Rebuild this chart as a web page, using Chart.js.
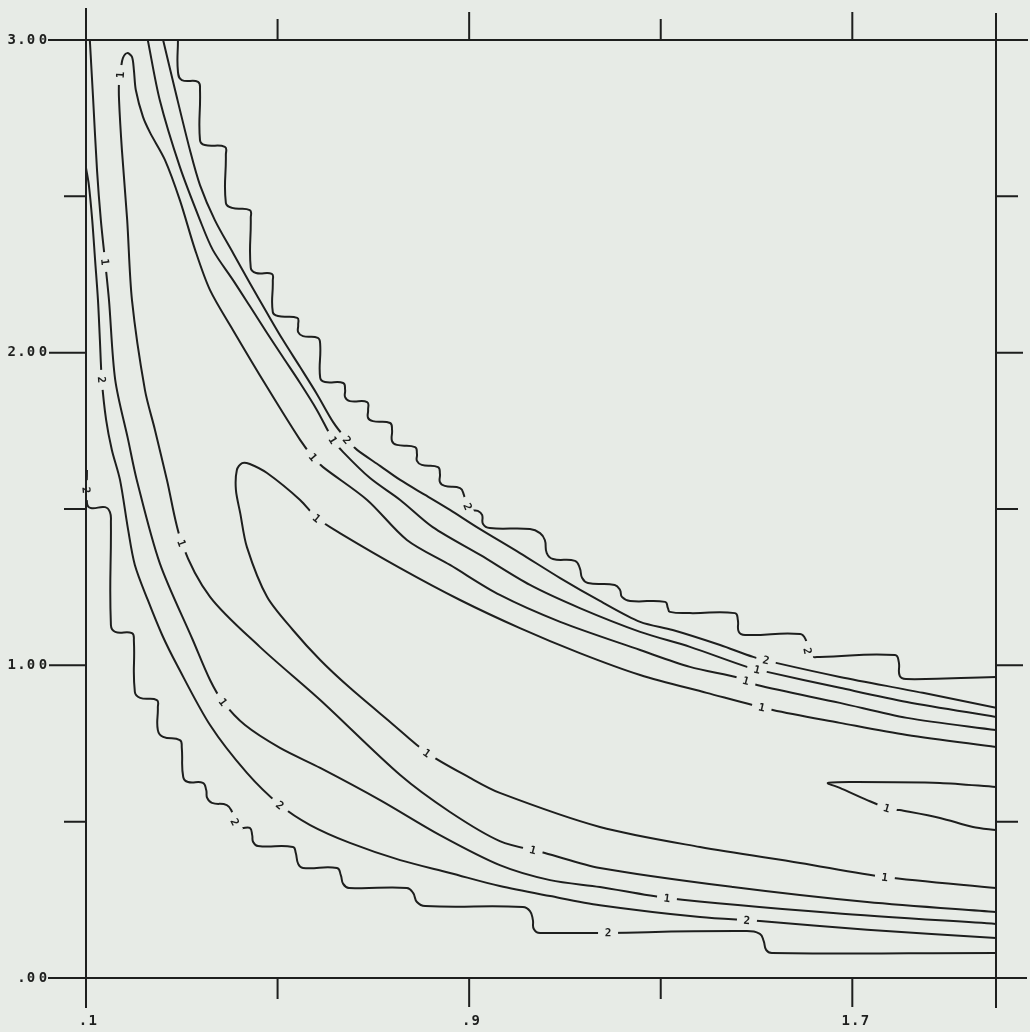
<!DOCTYPE html>
<html>
<head>
<meta charset="utf-8">
<script src="https://cdn.jsdelivr.net/npm/chart.js@4.4.1/dist/chart.umd.min.js"></script>
<style>
  html, body { margin: 0; padding: 0; background: #e7ebe6; }
  #wrap { width: 1030px; height: 1032px; }
</style>
</head>
<body>
<div id="wrap"><canvas id="contourChart" width="1030" height="1032"></canvas></div>
<script>
// contour lines, [x, y] pairs in data units
const upperWavy2 = [[0.292,3.000],[0.292,2.898],[0.300,2.872],[0.334,2.866],[0.338,2.840],[0.338,2.680],[0.348,2.664],[0.390,2.658],[0.392,2.632],[0.392,2.479],[0.405,2.463],[0.442,2.456],[0.444,2.431],[0.444,2.271],[0.455,2.255],[0.488,2.252],[0.490,2.229],[0.490,2.130],[0.501,2.117],[0.541,2.111],[0.543,2.088],[0.543,2.066],[0.553,2.053],[0.584,2.047],[0.589,2.025],[0.589,1.919],[0.599,1.906],[0.637,1.903],[0.641,1.881],[0.641,1.858],[0.651,1.845],[0.687,1.842],[0.689,1.817],[0.689,1.791],[0.699,1.781],[0.735,1.775],[0.739,1.753],[0.739,1.717],[0.749,1.705],[0.787,1.698],[0.791,1.676],[0.791,1.654],[0.801,1.641],[0.835,1.634],[0.839,1.612],[0.839,1.586],[0.849,1.574],[0.881,1.567],[0.889,1.545],[0.893,1.519],[0.902,1.497],[0.918,1.494],[0.927,1.481],[0.929,1.452],[0.943,1.439],[1.027,1.436],[1.048,1.423],[1.058,1.401],[1.062,1.359],[1.075,1.340],[1.121,1.334],[1.131,1.311],[1.136,1.279],[1.148,1.263],[1.204,1.257],[1.215,1.241],[1.219,1.219],[1.236,1.206],[1.309,1.203],[1.315,1.183],[1.319,1.171],[1.361,1.167],[1.455,1.167],[1.461,1.145],[1.463,1.107],[1.476,1.097],[1.591,1.100],[1.603,1.081],[1.605,1.055],[1.609,1.036],[1.616,1.027],[1.632,1.027],[1.789,1.033],[1.797,1.011],[1.799,0.966],[1.812,0.956],[2.000,0.963]];
const upper2 = [[0.261,3.000],[0.286,2.840],[0.317,2.648],[0.338,2.536],[0.369,2.424],[0.407,2.319],[0.442,2.223],[0.478,2.127],[0.511,2.041],[0.547,1.954],[0.582,1.868],[0.616,1.778],[0.645,1.721],[0.666,1.689],[0.714,1.638],[0.756,1.593],[0.808,1.545],[0.860,1.497],[0.916,1.442],[1.006,1.359],[1.090,1.279],[1.173,1.206],[1.257,1.139],[1.325,1.113],[1.424,1.065],[1.493,1.027],[1.543,1.007],[1.674,0.963],[1.847,0.912],[2.000,0.864]];
const upper1 = [[0.229,3.000],[0.254,2.808],[0.296,2.594],[0.338,2.424],[0.365,2.328],[0.407,2.232],[0.442,2.149],[0.478,2.063],[0.511,1.986],[0.547,1.903],[0.582,1.817],[0.616,1.721],[0.637,1.682],[0.693,1.599],[0.756,1.529],[0.824,1.442],[0.923,1.353],[1.027,1.257],[1.131,1.183],[1.257,1.107],[1.361,1.059],[1.480,0.995],[1.522,0.979],[1.674,0.928],[1.814,0.883],[2.000,0.835]];
const loop1 = [[2.000,0.211],[1.731,0.243],[1.451,0.291],[1.173,0.352],[1.058,0.400],[0.964,0.438],[0.860,0.531],[0.756,0.649],[0.589,0.889],[0.463,1.059],[0.359,1.219],[0.300,1.391],[0.269,1.593],[0.244,1.753],[0.223,1.881],[0.196,2.168],[0.186,2.424],[0.175,2.648],[0.169,2.808],[0.169,2.866],[0.173,2.910],[0.177,2.942],[0.186,2.958],[0.196,2.946],[0.200,2.904],[0.204,2.840],[0.219,2.754],[0.234,2.703],[0.265,2.616],[0.296,2.488],[0.328,2.328],[0.359,2.200],[0.407,2.072],[0.478,1.890],[0.547,1.721],[0.574,1.666],[0.595,1.634],[0.687,1.529],[0.770,1.401],[0.860,1.321],[0.964,1.225],[1.090,1.139],[1.257,1.049],[1.361,0.995],[1.465,0.959],[1.501,0.937],[1.674,0.880],[1.814,0.832],[2.000,0.793]];
const lower1 = [[0.108,3.000],[0.115,2.808],[0.123,2.584],[0.131,2.424],[0.140,2.290],[0.148,2.168],[0.161,1.913],[0.188,1.721],[0.206,1.593],[0.254,1.327],[0.323,1.081],[0.359,0.953],[0.386,0.883],[0.432,0.809],[0.505,0.736],[0.589,0.672],[0.714,0.569],[0.839,0.457],[0.964,0.361],[1.069,0.313],[1.173,0.291],[1.313,0.256],[1.660,0.208],[2.000,0.173]];
const lower2 = [[0.100,2.591],[0.106,2.536],[0.113,2.424],[0.119,2.296],[0.125,2.168],[0.129,2.041],[0.133,1.913],[0.142,1.785],[0.154,1.689],[0.171,1.593],[0.188,1.433],[0.202,1.321],[0.229,1.209],[0.259,1.097],[0.290,1.001],[0.359,0.809],[0.436,0.656],[0.505,0.553],[0.568,0.489],[0.651,0.432],[0.756,0.377],[0.860,0.336],[0.964,0.294],[1.069,0.262],[1.173,0.233],[1.382,0.195],[1.507,0.182],[1.731,0.154],[2.000,0.128]];
const lowerWavy2 = [[0.102,1.625],[0.102,1.519],[0.110,1.503],[0.140,1.506],[0.150,1.490],[0.152,1.458],[0.152,1.129],[0.161,1.107],[0.196,1.103],[0.200,1.078],[0.202,0.915],[0.213,0.896],[0.248,0.889],[0.250,0.864],[0.250,0.793],[0.261,0.771],[0.296,0.761],[0.300,0.736],[0.303,0.643],[0.313,0.627],[0.344,0.624],[0.351,0.601],[0.353,0.576],[0.363,0.560],[0.394,0.553],[0.405,0.531],[0.411,0.499],[0.422,0.480],[0.442,0.480],[0.447,0.457],[0.449,0.435],[0.459,0.422],[0.532,0.419],[0.538,0.400],[0.543,0.365],[0.553,0.352],[0.624,0.352],[0.632,0.329],[0.637,0.301],[0.649,0.288],[0.770,0.288],[0.783,0.272],[0.791,0.243],[0.808,0.230],[1.012,0.227],[1.027,0.214],[1.033,0.186],[1.035,0.157],[1.048,0.144],[1.480,0.150],[1.507,0.141],[1.515,0.118],[1.520,0.090],[1.532,0.080],[2.000,0.080]];
const innerLoop1 = [[2.000,0.739],[1.814,0.777],[1.674,0.816],[1.534,0.857],[1.396,0.912],[1.257,0.969],[1.131,1.039],[1.006,1.119],[0.881,1.209],[0.756,1.311],[0.630,1.423],[0.582,1.471],[0.547,1.529],[0.478,1.615],[0.442,1.644],[0.426,1.647],[0.415,1.625],[0.413,1.561],[0.422,1.487],[0.436,1.378],[0.478,1.219],[0.532,1.113],[0.589,1.017],[0.651,0.928],[0.735,0.819],[0.812,0.720],[0.902,0.640],[0.964,0.592],[1.173,0.483],[1.382,0.419],[1.591,0.368],[1.768,0.323],[2.000,0.288]];
const rightTongue1 = [[2.000,0.611],[1.883,0.624],[1.710,0.627],[1.649,0.624],[1.674,0.608],[1.731,0.569],[1.772,0.544],[1.799,0.537],[1.883,0.512],[1.952,0.483],[2.000,0.473]];

// contour level labels: text, position, and which line they sit on
const labelText  = ["2","2", "2","2", "1","1", "1","1","1","1","1", "1","1","1", "2","2","2", "2","2","2", "1","1","1","1", "1"];
const labelX     = [0.897,1.607, 0.645,1.520, 0.616,1.501, 0.171,0.300,1.033,0.574,1.478, 0.140,0.386,1.313, 0.133,0.505,1.480, 0.101,0.411,1.190, 0.582,1.511,0.812,1.768, 1.772];
const labelY     = [1.508,1.046, 1.721,1.017, 1.721,0.987, 2.888,1.391,0.410,1.666,0.951, 2.290,0.883,0.256, 1.913,0.553,0.185, 1.560,0.499,0.146, 1.471,0.866,0.720,0.323, 0.544];
const labelCurve = [0,0, 1,1, 2,2, 3,3,3,3,3, 4,4,4, 5,5,5, 6,6,6, 7,7,7,7, 8];

// axes
const xTicks = [0.1, 0.5, 0.9, 1.3, 1.7];
const xMajor = [true, false, true, false, true];
const xTickLabels = [".1", "", ".9", "", "1.7"];
const yTicks = [0.5, 1, 1.5, 2, 2.5];
const yMajor = [false, true, false, true, false];
const yTickValues = [3, 2, 1, 0];
const yTickLabels = ["3.00", "2.00", "1.00", ".00"];

const ink = "#1e1f1e";
const paper = "#e7ebe6";
const contours = [upperWavy2, upper2, upper1, loop1, lower1, lower2, lowerWavy2, innerLoop1, rightTongue1];
const wavy = [true, false, false, false, false, false, true, false, false];

function monoText(ctx, str, xRight, y, adv) {
  for (let i = 0; i < str.length; i++) {
    const ch = str[i];
    const w = ch === "." ? adv * 0.6 : adv;
    ctx.fillText(ch, xRight - w / 2, y);
  }
}

// draw right-aligned plotter-style text, narrow cell for the dot
function plotterText(ctx, str, xRight, y, adv) {
  let x = xRight;
  for (let i = str.length - 1; i >= 0; i--) {
    const w = str[i] === "." ? adv * 0.6 : adv;
    ctx.fillText(str[i], x - w / 2, y);
    x -= w;
  }
}

function textWidth(str, adv) {
  let w = 0;
  for (const ch of str) w += ch === "." ? adv * 0.6 : adv;
  return w;
}

function drawLabels(chart) {
  const ctx = chart.ctx;
  const xs = chart.scales.x, ys = chart.scales.y;
  ctx.save();
  ctx.font = "bold 11px 'DejaVu Sans Mono', monospace";
  ctx.textAlign = "center";
  ctx.textBaseline = "middle";
  labelText.forEach(function(txt, i) {
    const px = xs.getPixelForValue(labelX[i]);
    const py = ys.getPixelForValue(labelY[i]);
    const pts = chart.getDatasetMeta(labelCurve[i]).data;
    let best = 0, bestD = Infinity;
    pts.forEach(function(p, k) {
      const d = (p.x - px) * (p.x - px) + (p.y - py) * (p.y - py);
      if (d < bestD) { bestD = d; best = k; }
    });
    const a = pts[Math.max(best - 1, 0)];
    const b = pts[Math.min(best + 1, pts.length - 1)];
    let ang = Math.atan2(b.y - a.y, b.x - a.x);
    if (ang > Math.PI / 2) ang -= Math.PI;
    if (ang <= -Math.PI / 2) ang += Math.PI;
    ctx.save();
    ctx.translate(px, py);
    ctx.rotate(ang);
    ctx.fillStyle = paper;
    ctx.fillRect(-10, -4, 20, 8);
    ctx.fillStyle = ink;
    ctx.fillText(txt, 0, 1);
    ctx.restore();
  });
  ctx.restore();
}

function drawFrame(chart) {
  const ctx = chart.ctx;
  const xs = chart.scales.x, ys = chart.scales.y;
  const left = xs.getPixelForValue(0.1), right = xs.getPixelForValue(2.0);
  const top = ys.getPixelForValue(3), bottom = ys.getPixelForValue(0);
  ctx.save();
  ctx.strokeStyle = ink;
  ctx.lineWidth = 2;
  ctx.beginPath();
  ctx.moveTo(left - 38, top); ctx.lineTo(right + 32, top);
  ctx.moveTo(left - 38, bottom); ctx.lineTo(right + 31, bottom);
  ctx.moveTo(left, top - 32); ctx.lineTo(left, bottom + 30);
  ctx.moveTo(right, top - 27); ctx.lineTo(right, bottom + 30);
  xTicks.forEach(function(v, i) {
    const px = xs.getPixelForValue(v);
    ctx.moveTo(px, top); ctx.lineTo(px, top - (xMajor[i] ? 28 : 21));
    ctx.moveTo(px, bottom); ctx.lineTo(px, bottom + (xMajor[i] ? 29 : 21));
  });
  yTicks.forEach(function(v, i) {
    const py = ys.getPixelForValue(v);
    ctx.moveTo(left - (yMajor[i] ? 37 : 22), py); ctx.lineTo(left, py);
    ctx.moveTo(right, py); ctx.lineTo(right + (yMajor[i] ? 27 : 22), py);
  });
  ctx.stroke();

  ctx.fillStyle = ink;
  ctx.font = "bold 14px 'DejaVu Sans Mono', monospace";
  ctx.textAlign = "center";
  ctx.textBaseline = "middle";
  yTickValues.forEach(function(v, i) {
    plotterText(ctx, yTickLabels[i], left - 37, ys.getPixelForValue(v), 12);
  });
  xTicks.forEach(function(v, i) {
    const s = xTickLabels[i];
    if (!s) return;
    const px = xs.getPixelForValue(v);
    plotterText(ctx, s, px + textWidth(s, 12) / 2 + 3, bottom + 43, 12);
  });
  ctx.restore();
}

const plotterPlugin = {
  id: "plotter",
  beforeDraw: function(chart) {
    const ctx = chart.ctx;
    ctx.save();
    ctx.fillStyle = paper;
    ctx.fillRect(0, 0, chart.width, chart.height);
    ctx.restore();
  },
  afterDatasetsDraw: function(chart) {
    drawLabels(chart);
    drawFrame(chart);
  }
};

const context = document.getElementById("contourChart").getContext("2d");
const chart = new Chart(context, {
  type: "scatter",
  data: {
    datasets: contours.map(function(c, i) {
      return {
        data: c.map(function(p) { return { x: p[0], y: p[1] }; }),
        showLine: true,
        pointRadius: 0,
        borderColor: ink,
        borderWidth: 2,
        tension: wavy[i] ? 0.45 : 0.3,
        fill: false
      };
    })
  },
  options: {
    responsive: false,
    devicePixelRatio: 1,
    animation: false,
    layout: { padding: { left: 86, right: 34, top: 40, bottom: 54 } },
    plugins: { legend: { display: false }, tooltip: { enabled: false } },
    scales: {
      x: { type: "linear", min: 0.1, max: 2.0, display: false },
      y: { type: "linear", min: 0, max: 3, display: false }
    }
  },
  plugins: [plotterPlugin]
});
</script>
</body>
</html>
